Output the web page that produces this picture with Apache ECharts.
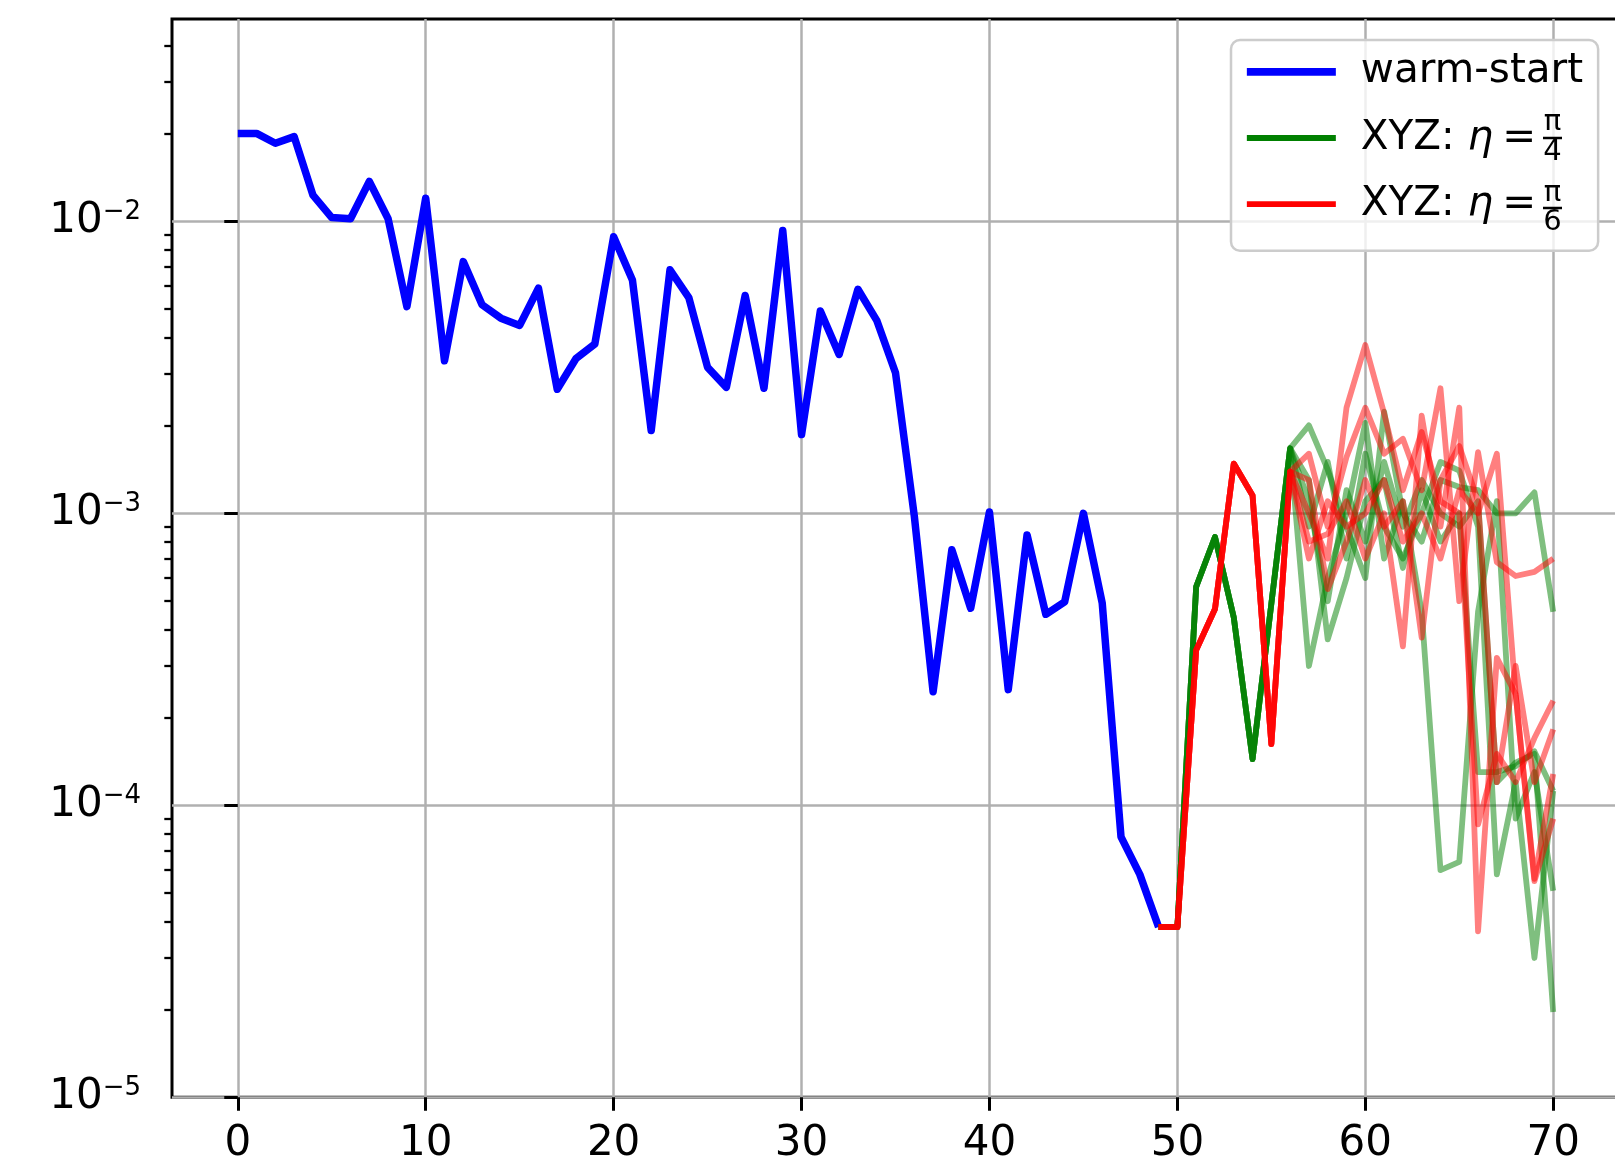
<!DOCTYPE html>
<html>
<head>
<meta charset="utf-8">
<script src="https://cdn.jsdelivr.net/npm/echarts@6.0.0/dist/echarts.min.js"></script>
<style>
  html, body { margin: 0; padding: 0; background: #fff; }
  #chart { width: 1615px; height: 1163px; }
</style>
</head>
<body>
<div id="chart"></div>
<script>
// warm-start phase, iterations 0..49
var warmSteps = []
for (var i = 0; i <= 49; i++) warmSteps.push(i)
var warmStart = [
  0.0200, 0.0200, 0.0185, 0.0195, 0.0123, 0.0103, 0.0102, 0.0137, 0.0102, 0.0051,
  0.0120, 0.00333, 0.00728, 0.00518, 0.00466, 0.00440, 0.00590, 0.00266, 0.00339, 0.00380,
  0.00885, 0.00630, 0.00192, 0.00682, 0.00548, 0.00316, 0.00270, 0.00557, 0.00268, 0.00930,
  0.00186, 0.00493, 0.00350, 0.00585, 0.00458, 0.00303, 0.00098, 0.000245, 0.00075, 0.000473,
  0.00101, 0.000249, 0.000843, 0.000451, 0.000497, 0.00100, 0.000493, 7.8e-5, 5.8e-5, 3.83e-5
]

// XYZ runs: common part for iterations 49..56, then one tail per run for 57..70
var xyzSteps = []
for (var j = 49; j <= 70; j++) xyzSteps.push(j)

var greenShared = [3.83e-5, 3.83e-5, 5.6e-4, 8.3e-4, 4.4e-4, 1.44e-4, 4.9e-4, 1.67e-3]
var greenTails = [
  [2.0e-3, 1.41e-3, 9e-4, 6e-4, 2.23e-3, 1.0e-3, 8e-4, 1.3e-3, 1.23e-3, 1.2e-3, 1.0e-3, 1.0e-3, 1.18e-3, 4.6e-4],
  [3.0e-4, 6e-4, 1.0e-3, 2.04e-3, 7e-4, 1.1e-3, 4.6e-4, 6e-5, 6.4e-5, 4.6e-4, 1.1e-3, 9e-5, 1.3e-4, 5.1e-5],
  [1.3e-3, 3.7e-4, 6e-4, 1.1e-3, 1.3e-3, 6.5e-4, 1.2e-3, 8e-4, 1.0e-3, 1.3e-4, 1.3e-4, 1.36e-4, 1.53e-4, 1.12e-4],
  [9e-4, 1.5e-3, 7e-4, 1.6e-3, 9e-4, 7e-4, 1.0e-3, 1.5e-3, 1.4e-3, 9e-4, 5.8e-5, 1.2e-4, 3.0e-5, 1.12e-4],
  [1.1e-3, 5e-4, 1.2e-3, 8e-4, 1.5e-3, 9e-4, 1.3e-3, 1.0e-3, 9e-4, 1.1e-3, 1.2e-4, 1.4e-4, 1.5e-4, 1.96e-5]
]

var redShared = [3.83e-5, 3.83e-5, 3.4e-4, 4.7e-4, 1.48e-3, 1.15e-3, 1.62e-4, 1.39e-3]
var redTails = [
  [1.0e-3, 7e-4, 2.3e-3, 3.77e-3, 2.2e-3, 1.2e-3, 1.9e-3, 1.1e-3, 1.0e-3, 8.6e-5, 1.5e-4, 1.2e-4, 1.7e-4, 2.28e-4],
  [1.6e-3, 9e-4, 1.56e-3, 2.3e-3, 1.6e-3, 1.8e-3, 1.2e-3, 2.68e-3, 5e-4, 1.62e-3, 6.8e-4, 6.1e-4, 6.3e-4, 7e-4],
  [8e-4, 8.5e-4, 1.1e-3, 7e-4, 1.0e-3, 3.5e-4, 2.16e-3, 9e-4, 2.3e-3, 3.7e-5, 3.2e-4, 2.4e-4, 5.6e-5, 1.28e-4],
  [1.3e-3, 5.5e-4, 8e-4, 1.3e-3, 9e-4, 1.1e-3, 3.75e-4, 1.3e-3, 1.7e-3, 1.1e-3, 1.2e-4, 3e-4, 1.2e-4, 1.82e-4],
  [7e-4, 1.1e-3, 9e-4, 1.0e-3, 1.3e-3, 8e-4, 1.0e-3, 7e-4, 1.2e-3, 1.0e-3, 1.6e-3, 2.4e-4, 5.5e-5, 9e-5]
]

var xTicks = [0, 10, 20, 30, 40, 50, 60, 70]
var yMajor = [1e-5, 1e-4, 1e-3, 1e-2]
var yMinor = [
  2e-5, 3e-5, 4e-5, 5e-5, 6e-5, 7e-5, 8e-5, 9e-5,
  2e-4, 3e-4, 4e-4, 5e-4, 6e-4, 7e-4, 8e-4, 9e-4,
  2e-3, 3e-3, 4e-3, 5e-3, 6e-3, 7e-3, 8e-3, 9e-3,
  2e-2, 3e-2, 4e-2
]

var NAME_WARM = 'warm-start'
var NAME_G = 'XYZ: η=π/4'
var NAME_R = 'XYZ: η=π/6'
var FONT = 'DejaVu Sans'

function pairs(xs, ys) {
  return xs.map(function(x, k) { return [x, ys[k]] })
}

var series = [
  {
    name: NAME_WARM,
    type: 'line',
    symbol: 'none',
    data: pairs(warmSteps, warmStart),
    lineStyle: { color: '#0000ff', width: 7.5, join: 'round' },
    itemStyle: { color: '#0000ff' }
  }
]
greenTails.forEach(function(tail) {
  series.push({
    name: NAME_G,
    type: 'line',
    symbol: 'none',
    data: pairs(xyzSteps, greenShared.concat(tail)),
    lineStyle: { color: '#008000', width: 5.8, opacity: 0.5, join: 'round' },
    itemStyle: { color: '#008000' }
  })
})
redTails.forEach(function(tail) {
  series.push({
    name: NAME_R,
    type: 'line',
    symbol: 'none',
    data: pairs(xyzSteps, redShared.concat(tail)),
    lineStyle: { color: '#ff0000', width: 5.8, opacity: 0.5, join: 'round' },
    itemStyle: { color: '#ff0000' }
  })
})

var chart = echarts.init(document.getElementById('chart'), null, { renderer: 'canvas' })

// fraction parts of the legend labels (pi over 4, pi over 6)
function fracText(txt, y) {
  return {
    type: 'text', x: 1552.5, y: y, z: 100,
    style: { text: txt, fontSize: 29, fontFamily: FONT, fill: '#000', align: 'center', verticalAlign: 'middle' }
  }
}
function fracBar(y) {
  return {
    type: 'line', z: 100,
    shape: { x1: 1543, y1: y, x2: 1562, y2: y },
    style: { stroke: '#000', lineWidth: 2.5 }
  }
}

var option = {
  animation: false,
  backgroundColor: '#ffffff',
  grid: {
    left: 172,
    top: 19,
    width: 1447,
    height: 1078.3,
    show: true,
    borderColor: '#000000',
    borderWidth: 3,
    backgroundColor: 'transparent',
    containLabel: false,
    outerBoundsMode: 'none'
  },
  xAxis: {
    type: 'value',
    min: -3.5,
    max: 73.5,
    axisLine: { show: false },
    axisTick: {
      show: true,
      length: 13.5,
      customValues: xTicks,
      lineStyle: { color: '#000', width: 3 }
    },
    axisLabel: {
      customValues: xTicks,
      fontSize: 42,
      fontFamily: FONT,
      color: '#000',
      margin: 26
    },
    splitLine: { show: true, lineStyle: { color: '#b0b0b0', width: 2.5 } }
  },
  yAxis: [
    {
      type: 'log',
      logBase: 10,
      min: 1e-5,
      max: 0.0493,
      position: 'left',
      axisLine: { show: false },
      axisTick: {
        show: true,
        length: 13.5,
        customValues: yMajor,
        lineStyle: { color: '#000', width: 3 }
      },
      axisLabel: {
        customValues: yMajor,
        margin: 31,
        formatter: function(v) {
          var e = Math.round(Math.log10(v))
          return '{b|10}{s|' + (e < 0 ? '\u2212' : '') + Math.abs(e) + '}'
        },
        rich: {
          b: { fontSize: 42, lineHeight: 45, fontFamily: FONT, color: '#000', verticalAlign: 'middle' },
          s: { fontSize: 26, lineHeight: 26, fontFamily: FONT, color: '#000', verticalAlign: 'top' }
        }
      },
      splitLine: { show: true, lineStyle: { color: '#b0b0b0', width: 2.5 } }
    },
    {
      // minor ticks only
      type: 'log',
      logBase: 10,
      min: 1e-5,
      max: 0.0493,
      position: 'left',
      axisLine: { show: false },
      axisTick: {
        show: true,
        length: 7.7,
        customValues: yMinor,
        lineStyle: { color: '#000', width: 2.3 }
      },
      axisLabel: { show: false },
      splitLine: { show: false }
    }
  ],
  legend: {
    orient: 'vertical',
    left: 1231,
    top: 40,
    padding: [11.3, 15, 26, 12],
    itemGap: 25.2,
    itemWidth: 89,
    itemHeight: 6,
    selectedMode: false,
    backgroundColor: 'rgba(255,255,255,0.8)',
    borderColor: '#cccccc',
    borderWidth: 2.5,
    borderRadius: 9,
    data: [
      { name: NAME_WARM, lineStyle: { width: 7.7, opacity: 1 } },
      { name: NAME_G, lineStyle: { width: 5.8, opacity: 1 } },
      { name: NAME_R, lineStyle: { width: 5.8, opacity: 1 } }
    ],
    formatter: function(name) {
      if (name === NAME_WARM) return '{w|warm-start}'
      return '{x|XYZ: }{e|η}{t|=}{sp| }'
    },
    textStyle: {
      fontFamily: FONT,
      fontSize: 40.5,
      color: '#000',
      rich: {
        w: { fontSize: 40.5, fontFamily: FONT, color: '#000', padding: [0, 0, 0, 20] },
        x: { fontSize: 40.5, fontFamily: FONT, color: '#000', padding: [0, 0, 0, 20] },
        e: { fontSize: 40.5, fontFamily: FONT, color: '#000', fontStyle: 'italic', padding: [0, 0, 0, 0] },
        t: { fontSize: 40.5, fontFamily: FONT, color: '#000', padding: [0, 0, 0, 9] },
        sp: { fontSize: 40.5, width: 28 }
      }
    }
  },
  graphic: {
    elements: [
      fracText('π', 122.5), fracBar(138), fracText('4', 152.5),
      fracText('π', 193), fracBar(208), fracText('6', 222)
    ]
  },
  series: series
}

chart.setOption(option)
</script>
</body>
</html>
